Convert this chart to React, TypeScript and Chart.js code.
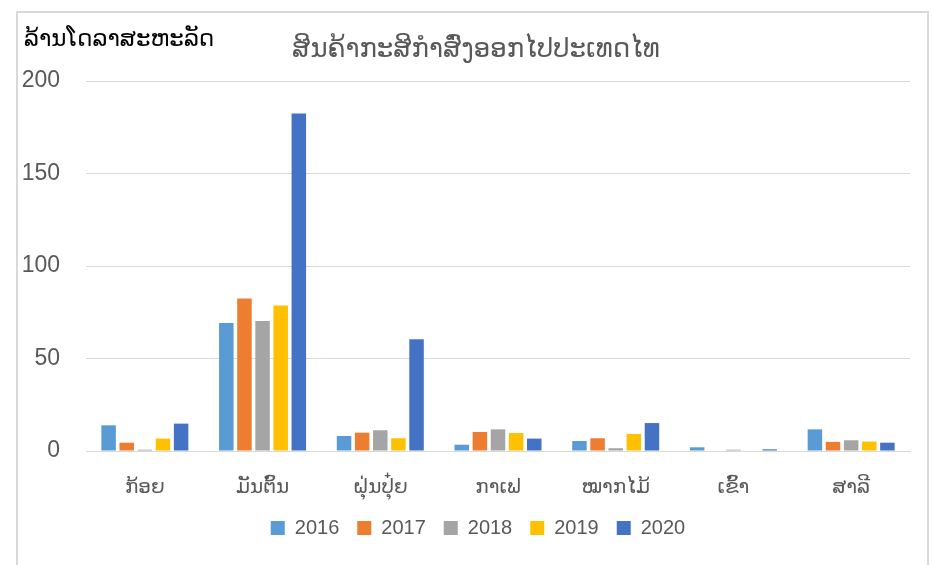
import React, { useEffect, useRef } from "react";
import { Chart, registerables } from "chart.js";

Chart.register(...registerables);

const categories = ["ກ້ອຍ", "ມັນຕົ້ນ", "ຝຸ່ນປຸ໋ຍ", "ກາເຟ", "ໝາກໄມ້", "ເຂົ້າ", "ສາລີ"];
const years = ["2016", "2017", "2018", "2019", "2020"];
const v2016 = [13.9, 69.2, 8.1, 3.4, 5.4, 2.0, 11.7];
const v2017 = [4.5, 82.4, 9.9, 10.3, 6.9, 0, 4.9];
const v2018 = [0.7, 70.3, 11.2, 11.7, 1.5, 0.7, 5.8];
const v2019 = [6.7, 78.6, 6.9, 9.7, 9.2, 0, 5.1];
const v2020 = [14.8, 182.5, 60.4, 6.7, 15.1, 0.9, 4.5];
const seriesValues = [v2016, v2017, v2018, v2019, v2020];
const colors = ["#5B9BD5", "#ED7D31", "#A5A5A5", "#FFC000", "#4472C4"];
const yTicks = [0, 50, 100, 150, 200];
const titleText = "ສິນຄ້າກະສິກຳສົ່ງອອກໄປປະເທດໄທ";
const yAxisTitle = "ລ້ານໂດລາສະຫະລັດ";

const FONT = "'Liberation Sans', 'DejaVu Sans', sans-serif";

const textPlugin = {
  id: "textPlugin",
  afterLayout(chart: any) {
    if (chart.legend) {
      chart.legend.left = 46;
    }
  },
  afterDraw(chart: any) {
    const ctx = chart.ctx;
    ctx.save();
    ctx.textBaseline = "middle";
    ctx.fillStyle = "#595959";
    ctx.font = `26px ${FONT}`;
    ctx.textAlign = "center";
    ctx.fillText(titleText, 476, 50);
    ctx.fillStyle = "#000000";
    ctx.font = `23px ${FONT}`;
    ctx.textAlign = "left";
    ctx.fillText(yAxisTitle, 24, 40);
    ctx.restore();
  },
};

export default function App() {
  const ref = useRef<HTMLCanvasElement | null>(null);
  useEffect(() => {
    if (!ref.current) return;
    const chart = new Chart(ref.current, {
      type: "bar",
      data: {
        labels: categories,
        datasets: years.map((y, i) => ({
          label: y,
          data: seriesValues[i],
          backgroundColor: colors[i],
          borderWidth: 0,
          categoryPercentage: 0.77,
          barPercentage: 0.8,
        })),
      },
      options: {
        animation: false,
        responsive: false,
        maintainAspectRatio: false,
        layout: { padding: { left: 0, right: 22, top: 81, bottom: 17 } },
        plugins: {
          title: { display: false },
          tooltip: { enabled: false },
          legend: {
            position: "bottom",
            labels: {
              boxWidth: 14,
              boxHeight: 14,
              padding: 18,
              color: "#595959",
              font: { family: FONT, size: 20 },
            },
          },
        },
        scales: {
          x: {
            grid: { display: false, drawTicks: false },
            border: { display: true, color: "#D9D9D9", width: 1 },
            ticks: { color: "#595959", font: { family: FONT, size: 20 }, padding: 24, maxRotation: 0 },
            afterFit: (s: any) => {
              s.height = 49;
            },
          },
          y: {
            min: 0,
            max: 200,
            afterBuildTicks: (s: any) => {
              s.ticks = yTicks.map((v) => ({ value: v }));
            },
            grid: { color: "#D9D9D9", lineWidth: 1, drawTicks: false },
            border: { display: false },
            ticks: { color: "#595959", font: { family: FONT, size: 23 }, padding: 26 },
            afterFit: (s: any) => {
              s.width = 86;
            },
          },
        },
      },
      plugins: [textPlugin],
    });
    return () => chart.destroy();
  }, []);
  return (
    <div style={{ position: "fixed", left: 0, top: 0, width: 932, height: 565, overflow: "hidden", background: "#fff" }}>
      <div
        style={{
          position: "absolute",
          left: 16,
          top: 11,
          width: 913,
          height: 620,
          border: "2px solid #D9D9D9",
          boxSizing: "border-box",
        }}
      />
      <canvas ref={ref} width={932} height={565} style={{ position: "absolute", left: 0, top: 0 }} />
    </div>
  );
}
